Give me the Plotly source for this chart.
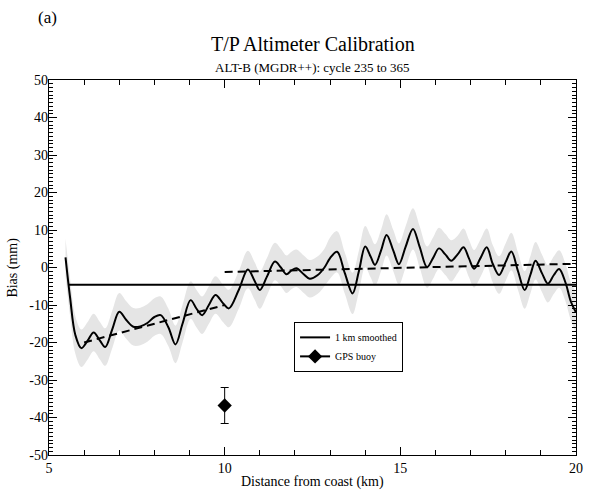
import plotly.graph_objects as go

# ---- data ----
curve_x = [5.47, 5.6, 5.75, 5.92, 6.1, 6.27, 6.45, 6.6, 6.8, 7.0, 7.2, 7.4, 7.6, 7.8, 8.0, 8.18,
           8.4, 8.6, 8.8, 9.03, 9.2, 9.36, 9.55, 9.74, 9.95, 10.12, 10.4, 10.66, 10.85, 11.0,
           11.2, 11.43, 11.6, 11.76, 11.9, 12.04, 12.25, 12.42, 12.65, 12.84, 13.0, 13.2,
           13.42, 13.64, 13.82, 14.0, 14.15, 14.28, 14.45, 14.61, 14.8, 14.96, 15.15, 15.36,
           15.55, 15.76, 15.93, 16.1, 16.28, 16.45, 16.63, 16.8, 16.95, 17.1, 17.28, 17.46,
           17.63, 17.81, 18.0, 18.16, 18.35, 18.54, 18.7, 18.85, 19.03, 19.2, 19.37, 19.52,
           19.7, 19.85, 20.0]
curve_y = [2.7, -8.0, -18.0, -21.5, -19.5, -17.3, -19.5, -21.2, -16.5, -11.8, -14.0, -15.8,
           -15.7, -14.8, -13.2, -12.7, -16.0, -20.5, -15.0, -8.7, -11.0, -12.7, -10.0, -7.3,
           -9.5, -10.9, -6.0, -0.5, -3.5, -6.0, -2.5, 1.6, 0.0, -1.8, -0.8, -0.2, -1.8, -3.0,
           -2.0, 0.0, 2.5, 4.2, -1.5, -6.9, -1.0, 5.6, 3.0, 0.7, 4.5, 8.7, 4.5, 0.9, 5.5, 10.3,
           5.5, 0.1, 2.5, 5.1, 3.5, 1.8, 3.5, 5.4, 2.5, -0.3, 2.5, 5.4, 1.0, -2.0, 1.5, 4.3,
           -1.0, -6.0, -2.0, 1.8, -1.5, -4.3, -2.0, -0.4, -4.0, -9.0, -12.0]
band_half = [5.0] * 40 + [5.5] * 20 + [5.0] * 21

mean_x = [5.54, 20.0]
mean_y = [-4.6, -4.6]

trend1_x = [6.0, 10.0]
trend1_y = [-20.0, -10.0]
trend2_x = [10.0, 20.0]
trend2_y = [-1.2, 1.0]

gps_x = [10.0]
gps_y = [-36.8]
gps_err = [4.8]

y_ticks = [-50, -40, -30, -20, -10, 0, 10, 20, 30, 40, 50]

FONT = "Liberation Serif"

upper = [y + h for y, h in zip(curve_y, band_half)]
lower = [y - h for y, h in zip(curve_y, band_half)]

fig = go.Figure()

# grey uncertainty band
fig.add_trace(go.Scatter(x=curve_x + curve_x[::-1], y=upper + lower[::-1],
                         fill="toself", fillcolor="#e5e5e5", line=dict(width=0, shape="spline"),
                         mode="lines", showlegend=False, hoverinfo="skip"))

# mean bias line
fig.add_trace(go.Scatter(x=mean_x, y=mean_y, mode="lines",
                         line=dict(color="black", width=2), showlegend=False))

# trend lines
fig.add_trace(go.Scatter(x=trend1_x, y=trend1_y, mode="lines",
                         line=dict(color="black", width=2, dash="8px,5px"), showlegend=False))
fig.add_trace(go.Scatter(x=trend2_x, y=trend2_y, mode="lines",
                         line=dict(color="black", width=2, dash="8px,5px"), showlegend=False))

# smoothed curve
fig.add_trace(go.Scatter(x=curve_x, y=curve_y, mode="lines", name="1 km smoothed",
                         line=dict(color="black", width=2, shape="spline", smoothing=1.0)))

# GPS buoy
fig.add_trace(go.Scatter(x=gps_x, y=gps_y, mode="lines+markers", name="GPS buoy",
                         line=dict(color="black", width=2),
                         marker=dict(symbol="diamond", size=11, color="black"),
                         error_y=dict(type="data", array=gps_err, color="black",
                                      thickness=1, width=4)))

# invisible trace to carry the y-label axis
fig.add_trace(go.Scatter(x=[None], y=[None], yaxis="y2", showlegend=False, hoverinfo="skip"))

tickfont = dict(family=FONT, size=14, color="black")

fig.update_layout(
    xaxis=dict(range=[5, 20], tickmode="linear", tick0=5, dtick=5,
               showline=True, linecolor="black", linewidth=1, mirror="ticks",
               ticks="inside", ticklen=8, tickcolor="black", tickwidth=1,
               minor=dict(dtick=1, tick0=5, ticks="inside", ticklen=5,
                          tickcolor="black", tickwidth=1, showgrid=False),
               showgrid=False, zeroline=False, tickfont=tickfont),
    yaxis=dict(range=[-50, 50], tickmode="linear", tick0=-50, dtick=10,
               showline=True, linecolor="black", linewidth=1, mirror="ticks",
               ticks="inside", ticklen=8, tickcolor="black", tickwidth=1,
               minor=dict(dtick=1, tick0=-50, ticks="inside", ticklen=4,
                          tickcolor="black", tickwidth=1, showgrid=False),
               showticklabels=False, showgrid=False, zeroline=False),
    yaxis2=dict(range=[-50, 50], overlaying="y", side="left", tickmode="array",
                tickvals=y_ticks, ticktext=[str(v) for v in y_ticks],
                ticks="", showline=False, showgrid=False, zeroline=False,
                tickfont=tickfont),
)

annotations = [
    dict(text="(a)", x=-0.002, y=1.168, font=dict(size=17)),
    dict(text="T/P Altimeter Calibration", x=0.5, y=1.096, font=dict(size=20)),
    dict(text="ALT-B (MGDR++): cycle 235 to 365", x=0.5, y=1.034, font=dict(size=13)),
    dict(text="Distance from coast (km)", x=0.5, y=-0.072, font=dict(size=14)),
    dict(text="Bias (mm)", x=-0.07, y=0.5, textangle=-90, font=dict(size=14)),
]
for a in annotations:
    a.update(xref="paper", yref="paper", showarrow=False, xanchor="center", yanchor="middle")
    a["font"].update(family=FONT, color="black")
fig.update_layout(annotations=annotations)

fig.update_layout(
    width=595, height=490,
    margin=dict(l=49, r=15, t=80, b=35),
    paper_bgcolor="white", plot_bgcolor="white",
    font=dict(family=FONT, color="black"),
    legend=dict(x=0.465, y=0.355, xanchor="left", yanchor="top",
                bgcolor="white", bordercolor="black", borderwidth=1,
                font=dict(family=FONT, size=10, color="black"),
                itemwidth=30, tracegroupgap=0),
)

fig.write_html("out.html")
